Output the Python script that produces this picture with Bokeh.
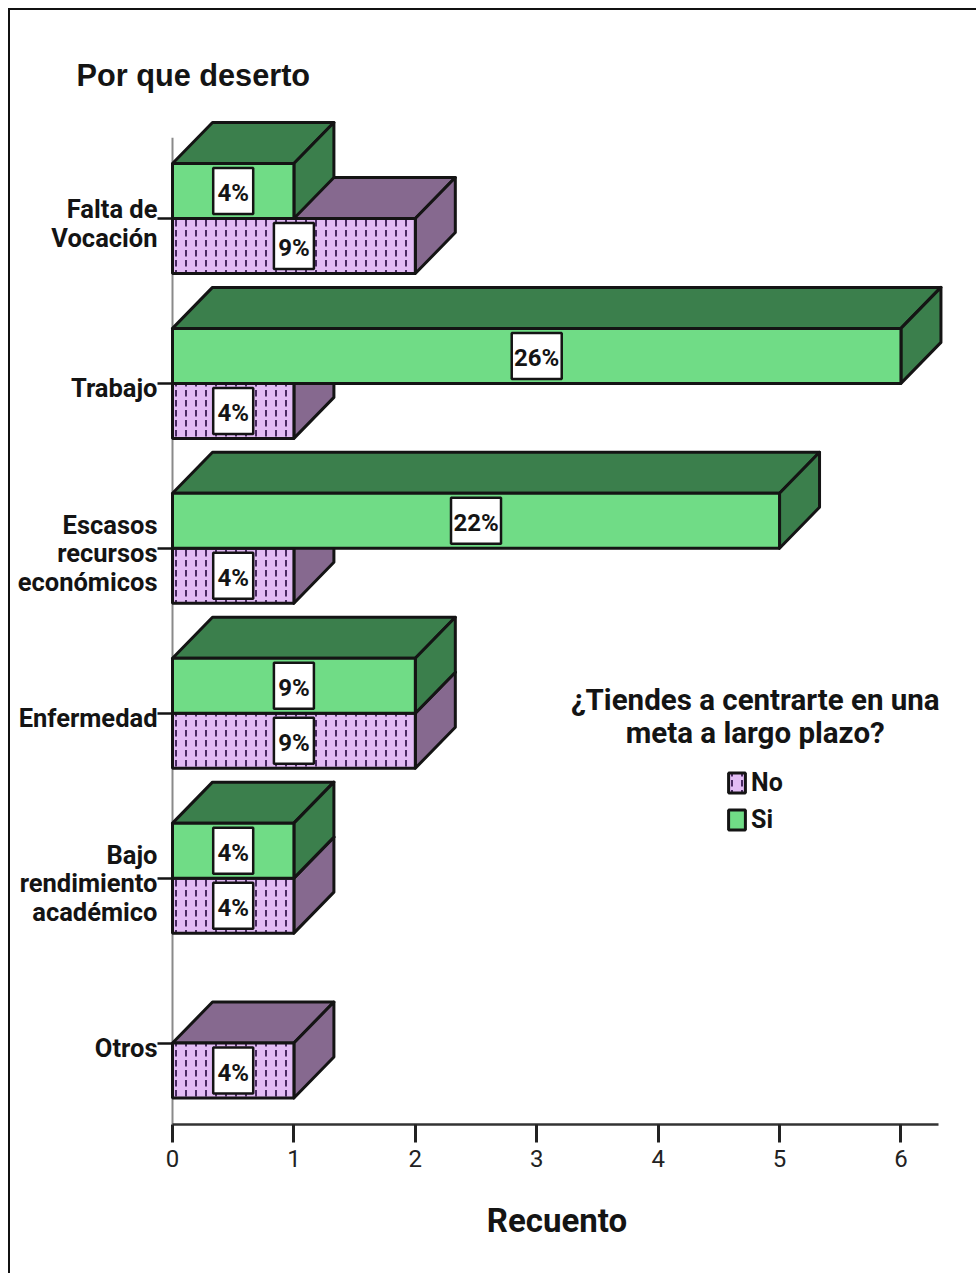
from bokeh.plotting import figure
from bokeh.models import (Range1d, FixedTicker, Legend, LegendItem, Label, ColumnDataSource)
from bokeh.core.properties import value
from bokeh.embed import file_html
from bokeh.resources import INLINE

categories = ["Falta de\nVocación", "Trabajo", "Escasos\nrecursos\neconómicos",
              "Enfermedad", "Bajo\nrendimiento\nacadémico", "Otros"]
no_counts = [2, 1, 1, 2, 1, 1]
si_counts = [1, 6, 5, 2, 1, 0]
no_pct = ["9%", "4%", "4%", "9%", "4%", "4%"]
si_pct = ["4%", "26%", "22%", "9%", "4%", ""]
x_ticks = [0, 1, 2, 3, 4, 5, 6]

NARROW = "Roboto"
INK = "#141414"
SI_FRONT, SI_DARK = "#70DC86", "#3B7F4C"
NO_FRONT, NO_DARK = "#E2BCF4", "#86698F"

BAR = 55 / 164.9     # bar thickness in category units
DX = 40 / 121.4      # 3D depth along the count axis
DY = 41 / 164.9      # 3D depth along the category axis
LABEL_NUDGE = 5 / 164.9  # tick labels sit slightly below their tick marks

p = figure(width=968, height=1265, output_backend="svg", toolbar_location=None,
           x_range=Range1d(-4 / 121.4, 6.367), y_range=Range1d(5.494, -0.7156),
           min_border_left=158, min_border_right=33, min_border_top=90, min_border_bottom=151,
           margin=(8, 0, 0, 8),
           styles={"border-top": "2px solid #111111", "border-left": "2px solid #111111"})
p.grid.visible = False
p.outline_line_color = None
p.background_fill_color = "#ffffff"
p.border_fill_color = "#ffffff"

p.title.text = "Por que deserto"
p.title.text_font = "Liberation Sans"
p.title.text_font_size = "30.7px"
p.title.text_font_style = "bold"
p.title.text_color = INK
p.title.align = "left"
p.title.offset = -92
p.title.standoff = 15

ax = p.xaxis[0]
ax.ticker = FixedTicker(ticks=x_ticks)
ax.bounds = (0, 6.31)
ax.axis_label = "Recuento"
ax.axis_label_text_font = NARROW
ax.axis_label_text_font_size = "33px"
ax.axis_label_text_font_style = "bold"
ax.axis_label_text_color = INK
ax.axis_label_standoff = 31
ax.axis_line_color = "#333333"
ax.axis_line_width = 2.5
ax.major_tick_out = 18
ax.major_tick_in = 0
ax.major_tick_line_color = "#222222"
ax.major_tick_line_width = 3
ax.minor_tick_line_color = None
ax.major_label_text_font = NARROW
ax.major_label_text_font_size = "24px"
ax.major_label_text_color = "#222222"
ax.major_label_standoff = 7

ay = p.yaxis[0]
label_ticks = [i + LABEL_NUDGE for i in range(len(categories))]
ay.ticker = FixedTicker(ticks=label_ticks, minor_ticks=list(range(len(categories))))
ay.major_label_overrides = dict(zip(label_ticks, categories))
ay.axis_line_color = None
ay.major_tick_line_color = None
ay.minor_tick_out = 11
ay.minor_tick_in = 4
ay.minor_tick_line_color = INK
ay.minor_tick_line_width = 2.5
ay.major_label_text_font = NARROW
ay.major_label_text_font_size = "25.5px"
ay.major_label_text_font_style = "bold"
ay.major_label_text_color = INK
ay.major_label_text_line_height = 0.95
ay.major_label_standoff = 0

# the grey category-axis rule runs along count 0, behind the bars
p.segment(x0=[0], y0=[-0.49], x1=[0], y1=[5.494], line_color="#8a8a8a", line_width=2, level="guide")


def bars(counts, y0, front, dark, **hatch):
    idx = [i for i, c in enumerate(counts) if c > 0]
    tops = [i + y0 for i in idx]
    vals = [counts[i] for i in idx]
    top_x = [[0, v, v + DX, DX] for v in vals]
    top_y = [[t, t, t - DY, t - DY] for t in tops]
    side_x = [[v, v + DX, v + DX, v] for v in vals]
    side_y = [[t, t - DY, t - DY + BAR, t + BAR] for t in tops]
    p.patches(top_x, top_y, fill_color=dark, line_color=INK, line_width=3, line_join="round", level="guide")
    p.patches(side_x, side_y, fill_color=dark, line_color=INK, line_width=3, line_join="round", level="guide")
    return p.quad(left=0, right=vals, top=tops, bottom=[t + BAR for t in tops],
                  fill_color=front, line_color=INK, line_width=3, level="guide", **hatch)


r_no = bars(no_counts, 0, NO_FRONT, NO_DARK, hatch_pattern="vertical_dash",
            hatch_color="#4A2A63", hatch_scale=10, hatch_weight=2)
r_si = bars(si_counts, -BAR, SI_FRONT, SI_DARK)


def pct_labels(counts, labels, y0):
    rows = [(counts[i] / 2, i + y0 + BAR / 2, labels[i]) for i in range(len(counts)) if counts[i] > 0]
    src = ColumnDataSource(dict(x=[r[0] for r in rows], y=[r[1] for r in rows], t=[r[2] for r in rows],
                                w=[40 if len(r[2]) < 3 else 50 for r in rows]))
    p.rect("x", "y", width="w", height=46, width_units="screen", height_units="screen", source=src,
           fill_color="#ffffff", line_color=INK, line_width=2.5, level="guide")
    p.text("x", "y", text="t", source=src, text_align="center", text_baseline="middle", level="guide",
           y_offset=2, text_font=value(NARROW), text_font_size="24px", text_font_style="bold", text_color=INK)


pct_labels(no_counts, no_pct, 0)
pct_labels(si_counts, si_pct, -BAR)

legend = Legend(items=[LegendItem(label="No", renderers=[r_no]), LegendItem(label="Si", renderers=[r_si])],
                location=(558, 290), padding=0, margin=0, spacing=8, glyph_width=21, glyph_height=25,
                label_standoff=4, background_fill_alpha=0, border_line_color=None,
                label_text_font=NARROW, label_text_font_size="25px", label_text_font_style="bold",
                label_text_color=INK)
p.add_layout(legend)

p.add_layout(Label(x=4.80, y=3.02, text="¿Tiendes a centrarte en una\nmeta a largo plazo?",
                   text_align="center", text_baseline="middle", text_font=NARROW,
                   text_font_size="29.5px", text_font_style="bold", text_color=INK, text_line_height=0.96))

open("out.html", "w").write(file_html(p, INLINE))
